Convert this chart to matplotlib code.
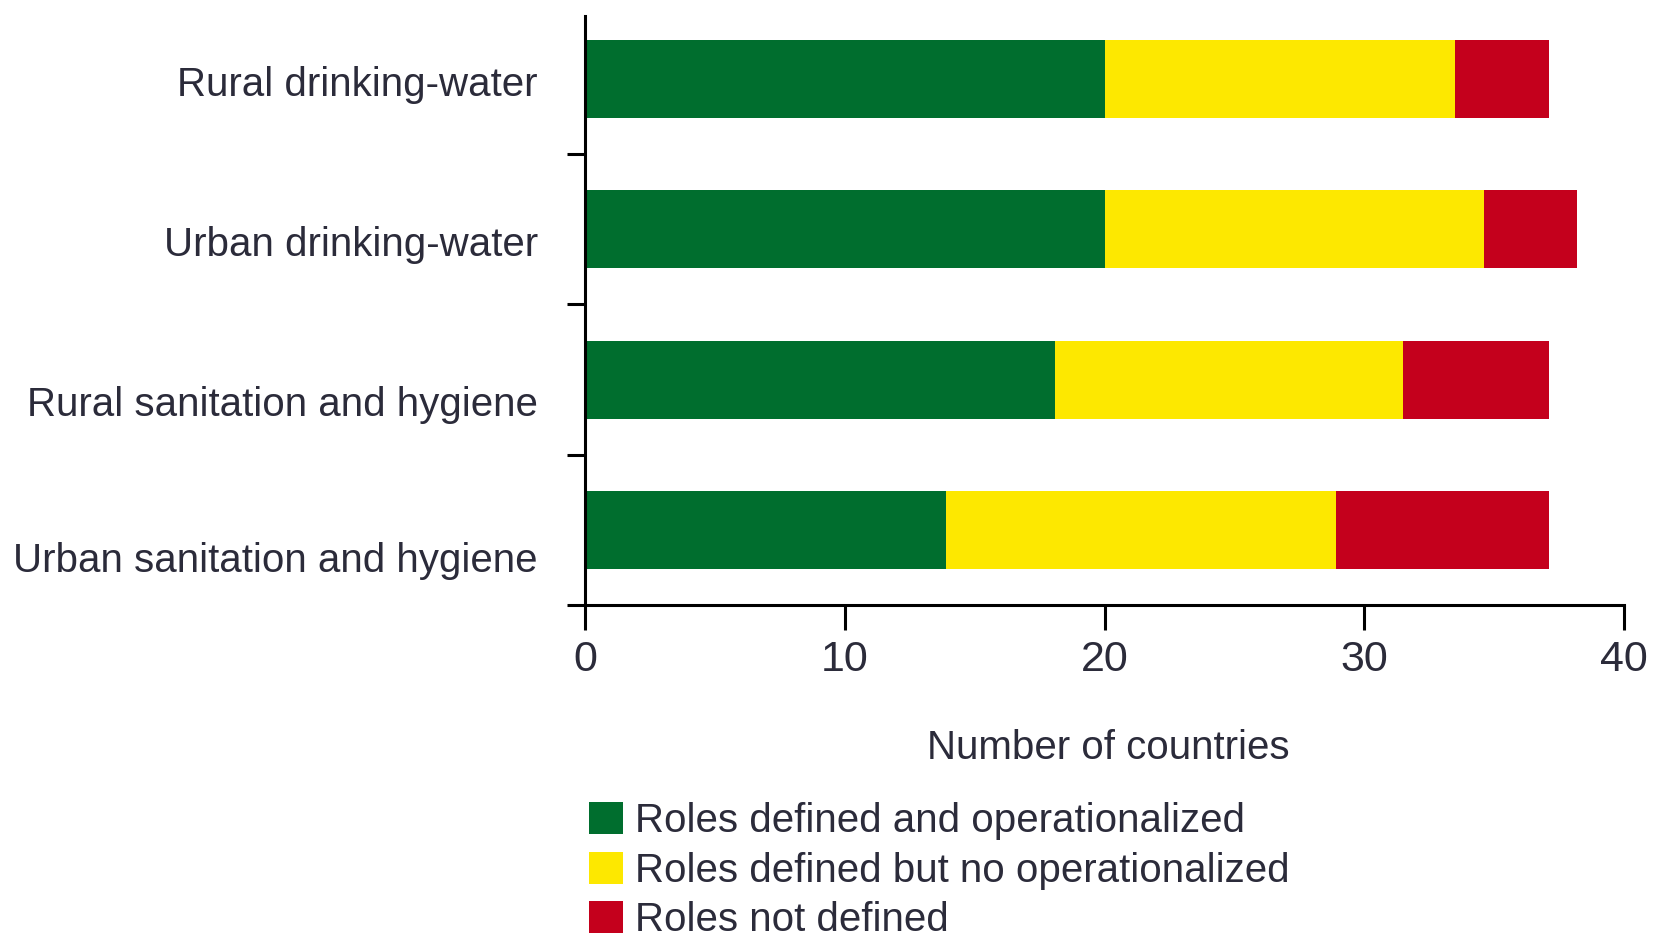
import matplotlib
matplotlib.use("Agg")
import matplotlib.pyplot as plt
import numpy as np

# Roles of stakeholders in WASH sub-sectors (number of countries)
categories = ["Urban sanitation and hygiene", "Rural sanitation and hygiene",
              "Urban drinking-water", "Rural drinking-water"]
defined_operational = [13.9, 18.1, 20.0, 20.0]
defined_not_operational = [15.0, 13.4, 14.6, 13.5]
not_defined = [8.2, 5.6, 3.6, 3.6]

series_labels = ["Roles defined and operationalized",
                 "Roles defined but no operationalized",
                 "Roles not defined"]
colors = ["#006E2E", "#FDE800", "#C4001C"]
x_ticks = [0, 10, 20, 30, 40]

plt.rcParams["font.family"] = ["Liberation Sans", "DejaVu Sans"]
text_color = "#2b2b3a"

fig = plt.figure(figsize=(16.59, 9.35), dpi=100)
ax = fig.add_axes([585 / 1659, 1 - 605 / 935, (1624 - 585) / 1659, (605 - 16) / 935])

y = np.arange(len(categories))
left = np.zeros(len(categories))
handles = []
for vals, lab, col in zip([defined_operational, defined_not_operational, not_defined],
                          series_labels, colors):
    h = ax.barh(y, vals, left=left, height=0.52, color=col, label=lab, linewidth=0)
    handles.append(h)
    left = left + np.array(vals)

ax.set_xlim(0, 40)
ax.set_ylim(-0.5, 3.42)
ax.set_xticks(x_ticks)
ax.set_xticklabels([str(t) for t in x_ticks], fontsize=31, color=text_color)

# boundary ticks between rows; category labels placed as unticked minor ticks
ax.set_yticks(np.arange(-0.5, len(categories) - 0.5, 1.0))
ax.set_yticklabels([])
label_offsets = np.array([-0.18, -0.14, -0.08, -0.01])
ax.set_yticks(y + label_offsets, minor=True)
ax.set_yticklabels(categories, minor=True, fontsize=29, color=text_color)
ax.tick_params(axis="y", which="minor", length=0, pad=34)
ax.tick_params(axis="y", which="major", length=13, width=2.2, direction="out")
ax.tick_params(axis="x", length=18, width=2.2, direction="out", pad=7)

for side in ["top", "right"]:
    ax.spines[side].set_visible(False)
for side in ["left", "bottom"]:
    ax.spines[side].set_linewidth(2.2)

fig.text(1108 / 1659, 1 - 748 / 935, "Number of countries", fontsize=29,
         color=text_color, ha="center", va="center")

leg = fig.legend(handles=handles, labels=series_labels, loc="upper left",
                 bbox_to_anchor=(589 / 1659, 1 - 802 / 935), frameon=False,
                 fontsize=29, handlelength=0.85, handleheight=0.85,
                 handletextpad=0.3, labelspacing=0.29, borderpad=0,
                 borderaxespad=0)
for t in leg.get_texts():
    t.set_color(text_color)

fig.savefig("out.png", dpi=100)
